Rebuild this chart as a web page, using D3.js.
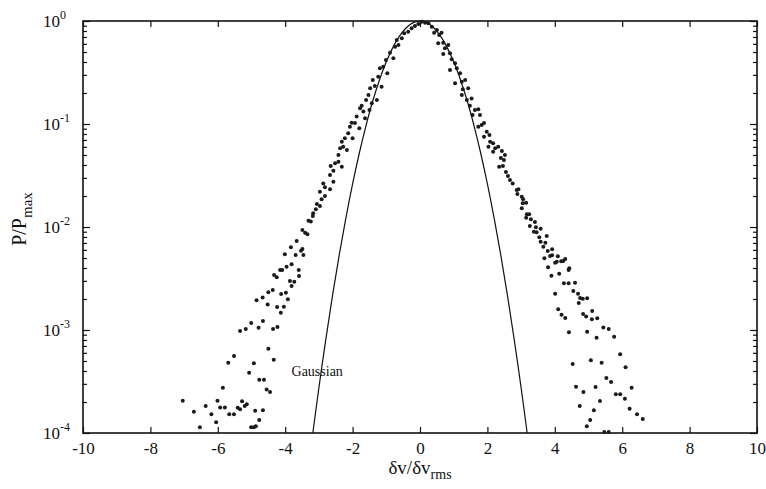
<!DOCTYPE html>
<html>
<head>
<meta charset="utf-8">
<script src="https://cdn.jsdelivr.net/npm/d3@7/dist/d3.min.js"></script>
<style>
  body { margin: 0; background: #fff; }
  svg { display: block; }
  svg text { font-family: "Liberation Serif", "Times New Roman", serif; }
</style>
</head>
<body>
<svg id="chart" width="766" height="489"></svg>
<script>
// Measured PDF, left tail (velocity increment / rms, normalised probability)
const leftTailX = [-2.87,-2.82,-2.57,-2.67,-2.97,-2.82,-2.92,-3.06,-2.97,-3.09,
  -3.17,-3.18,-3.31,-3.24,-3.49,-3.41,-3.34,-3.66,-3.83,-3.49,
  -3.53,-4.01,-3.69,-3.46,-3.81,-3.96,-4.15,-4.09,-3.60,-4.33,
  -4.25,-3.59,-3.86,-3.73,-3.81,-4.50,-4.37,-4.12,-3.98,-4.67,
  -4.85,-3.92,-4.52,-4.24,-4.04,-4.13,-5.01,-4.66,-4.79,-5.17,
  -5.34,-4.23,-4.36,-4.50,-4.34,-5.52,-5.69,-4.93,-5.07,-4.77,
  -4.63,-5.85,-4.55,-4.45,-7.04,-6.01,-5.28,-6.71,-6.36,-5.93,
  -5.79,-5.41,-5.34,-5.20,-5.14,-6.19,-5.66,-5.52,-4.89,-4.66,
  -6.53,-6.05,-4.77,-5.01,-4.87,-4.93];
const leftTailP = [0.0265,0.0243,0.0275,0.0232,0.0220,0.0200,0.0186,0.0167,0.0160,0.0149,
  0.0136,0.0128,0.0115,0.0113,0.00935,0.00881,0.00849,0.00731,0.00635,0.00611,
  0.00589,0.00543,0.00535,0.00535,0.00435,0.00412,0.00382,0.00382,0.00382,0.00342,
  0.00325,0.00334,0.00299,0.00294,0.00267,0.00232,0.00244,0.00223,0.00230,0.00207,
  0.00195,0.00199,0.00177,0.00167,0.00168,0.00147,0.00117,0.00122,0.00105,0.00102,
  0.000977,0.00107,0.00102,0.000658,0.000515,0.000560,0.000481,0.000475,0.000385,0.000329,
  0.000329,0.000275,0.000265,0.000250,0.000206,0.000206,0.000203,0.000161,0.000183,0.000177,
  0.000177,0.000176,0.000170,0.000183,0.000190,0.000152,0.000152,0.000152,0.000164,0.000166,
  0.000114,0.000127,0.000134,0.000114,0.000116,0.000114];

// core of the PDF
const coreX = [-2.67,-2.57,-2.65,-2.52,-2.42,-2.32,-2.42,-2.37,-2.28,-2.17,
  -2.32,-2.23,-2.13,-2.00,-2.08,-2.03,-1.93,-1.88,-1.80,-1.78,
  -1.73,-1.68,-1.60,-1.63,-1.53,-1.50,-1.43,-1.48,-1.34,-1.28,
  -1.40,-1.24,-1.14,-1.19,-1.09,-0.97,-1.01,-0.89,-0.79,-0.74,
  -0.64,-0.69,-0.54,-0.47,-0.35,-0.25,-0.15,-0.05,0.05,0.15,
  0.25,
  0.35,0.42,0.50,0.57,0.64,0.54,0.69,0.74,0.84,0.69,
  0.89,0.94,1.04,0.89,1.09,1.19,1.04,1.24,1.34,1.27,
  1.43,1.24,1.39,1.53,1.48,1.63,1.73,1.56,1.78,1.83,
  1.90,1.73,1.98,2.06,1.90,2.08,2.17,2.03,2.23,2.32,
  2.17,2.35,2.40,2.46,2.49,2.55,2.61,2.67,2.43,2.52];
const coreP = [0.0320,0.0352,0.0391,0.0415,0.0431,0.0385,0.0500,0.0581,0.0603,0.0560,
  0.0673,0.0726,0.0813,0.0726,0.0942,0.103,0.102,0.118,0.0908,0.142,
  0.150,0.132,0.171,0.114,0.191,0.137,0.159,0.222,0.234,0.171,
  0.267,0.288,0.230,0.347,0.360,0.311,0.418,0.492,0.434,0.563,
  0.585,0.654,0.679,0.760,0.787,0.849,0.894,0.935,0.984,0.962,
  0.950,
  0.881,0.770,0.818,0.731,0.770,0.607,0.615,0.543,0.585,0.478,
  0.486,0.425,0.388,0.334,0.347,0.311,0.248,0.257,0.267,0.217,
  0.222,0.191,0.171,0.177,0.150,0.137,0.139,0.122,0.122,0.0978,
  0.102,0.0942,0.0842,0.0782,0.0753,0.0673,0.0650,0.0603,0.0581,0.0603,
  0.0538,0.0385,0.0468,0.0391,0.0447,0.0342,0.0313,0.0286,0.0547,0.0500];

// right tail
const rightTailX = [2.75,2.87,2.92,2.89,3.02,3.06,3.15,3.05,3.02,3.17,
  3.24,3.15,3.29,3.41,3.26,3.44,3.58,3.38,3.46,3.54,
  3.76,3.58,3.72,3.66,3.79,3.92,3.86,3.92,4.09,3.69,
  4.01,4.06,4.19,4.25,4.31,3.80,4.43,4.41,4.13,3.90,
  4.27,4.41,4.60,4.55,4.69,4.01,4.75,4.83,4.96,4.71,
  4.10,4.20,4.31,4.84,4.93,5.11,5.10,5.26,4.42,4.96,
  5.44,5.60,5.24,5.76,4.53,5.07,5.39,5.94,6.10,5.53,
  5.67,4.63,5.21,6.28,4.85,5.81,5.94,6.08,5.34,4.74,
  5.16,6.22,6.44,6.61,5.05,4.95,5.47,5.60];
const rightTailP = [0.0265,0.0229,0.0232,0.0209,0.0197,0.0186,0.0172,0.0170,0.0152,0.0133,
  0.0133,0.0123,0.0119,0.0112,0.0102,0.00993,0.00962,0.00900,0.00888,0.00794,
  0.00818,0.00720,0.00705,0.00644,0.00585,0.00607,0.00523,0.00531,0.00519,0.00497,
  0.00450,0.00460,0.00464,0.00468,0.00489,0.00406,0.00397,0.00382,0.00352,0.00337,
  0.00284,0.00284,0.00288,0.00239,0.00225,0.00225,0.00205,0.00201,0.00203,0.00183,
  0.00159,0.00141,0.00131,0.00143,0.00135,0.00153,0.00127,0.00130,0.000950,0.000962,
  0.00106,0.00102,0.000841,0.000861,0.000468,0.000508,0.000481,0.000581,0.000434,0.000342,
  0.000313,0.000281,0.000279,0.000275,0.000250,0.000238,0.000238,0.000215,0.000205,0.000183,
  0.000166,0.000172,0.000152,0.000137,0.000134,0.000116,0.000102,0.000102];

// Gaussian reference curve
const gaussX = [-3.18,-3.0,-2.8,-2.6,-2.4,-2.2,-2.0,-1.8,-1.6,-1.4,-1.2,-1.0,-0.8,-0.6,-0.4,-0.2,0,
  0.2,0.4,0.6,0.8,1.0,1.2,1.4,1.6,1.8,2.0,2.2,2.4,2.6,2.8,3.0,3.18];
const gaussP = [1.0e-4,2.75e-4,7.9e-4,2.12e-3,5.27e-3,0.0122,0.0262,0.0523,0.0971,0.168,0.269,0.402,0.558,0.720,0.864,0.964,1,
  0.964,0.864,0.720,0.558,0.402,0.269,0.168,0.0971,0.0523,0.0262,0.0122,5.27e-3,2.12e-3,7.9e-4,2.75e-4,1.0e-4];

const xTicks = [-10, -8, -6, -4, -2, 0, 2, 4, 6, 8, 10];
const yDecades = [0, -1, -2, -3, -4];

const serif = '"Liberation Serif", "Times New Roman", serif';
const width = 766, height = 489;
const margin = {left: 83, right: 9, top: 21, bottom: 56};
const plotW = width - margin.left - margin.right;
const plotH = height - margin.top - margin.bottom;

const svg = d3.select('#chart');
const panel = svg.append('g')
                 .attr('transform', `translate(${margin.left},${margin.top})`);

const x = d3.scaleLinear().domain([-10, 10]).range([0, plotW]);
const y = d3.scaleLog().domain([1e-4, 1]).range([plotH, 0]);

const isMajor = d => Math.abs(Math.log10(d) - Math.round(Math.log10(d))) < 1e-6;
const majorY = y.ticks().filter(isMajor);
const minorY = y.ticks().filter(d => !isMajor(d));

// ticks (inward on all four sides)
function tickAxis(axis, tr) {
  const g = panel.append('g').attr('transform', tr).call(axis);
  g.attr('font-family', serif);
  g.select('.domain').remove();
  g.selectAll('line').attr('stroke', '#111').attr('stroke-width', 1.2);
  return g;
}

const xb = tickAxis(d3.axisBottom(x).tickValues(xTicks).tickSizeInner(-6).tickSizeOuter(0)
                      .tickPadding(9).tickFormat(d => String(d)),
                    `translate(0,${plotH})`);
xb.selectAll('text').attr('font-size', 17).attr('fill', '#111')
  .style('font-family', serif);

tickAxis(d3.axisTop(x).tickValues(xTicks).tickSizeInner(-6).tickSizeOuter(0).tickFormat(''),
         'translate(0,0)');

tickAxis(d3.axisLeft(y).tickValues(majorY).tickSizeInner(-7).tickSizeOuter(0).tickFormat(''),
         'translate(0,0)');
tickAxis(d3.axisLeft(y).tickValues(minorY).tickSizeInner(-4).tickSizeOuter(0).tickFormat(''),
         'translate(0,0)');
tickAxis(d3.axisRight(y).tickValues(majorY).tickSizeInner(-7).tickSizeOuter(0).tickFormat(''),
         `translate(${plotW},0)`);
tickAxis(d3.axisRight(y).tickValues(minorY).tickSizeInner(-4).tickSizeOuter(0).tickFormat(''),
         `translate(${plotW},0)`);

// y labels as 10^n
const yLab = panel.append('g').attr('class', 'y-labels');
yDecades.forEach(e => {
  const t = yLab.append('text')
                .attr('x', -40)
                .attr('y', y(Math.pow(10, e)) + 6)
                .attr('font-size', 17)
                .attr('fill', '#111');
  t.append('tspan').text('10');
  t.append('tspan').attr('font-size', 12).attr('dy', -8).text(String(e));
});

// frame
panel.append('rect')
     .attr('width', plotW).attr('height', plotH)
     .attr('fill', 'none').attr('stroke', '#111').attr('stroke-width', 1.6);

// Gaussian curve
panel.append('path')
     .datum(gaussX.map((v, i) => [v, gaussP[i]]))
     .attr('fill', 'none')
     .attr('stroke', '#111')
     .attr('stroke-width', 1.2)
     .attr('d', d3.line().x(d => x(d[0])).y(d => y(d[1])).curve(d3.curveCatmullRom));

panel.append('text')
     .attr('x', x(-3.05)).attr('y', y(3.6e-4))
     .attr('text-anchor', 'middle')
     .attr('font-size', 14)
     .attr('fill', '#111')
     .text('Gaussian');

// data points
const pts = [].concat(
  leftTailX.map((v, i) => [v, leftTailP[i]]),
  coreX.map((v, i) => [v, coreP[i]]),
  rightTailX.map((v, i) => [v, rightTailP[i]])
);
panel.append('g').attr('class', 'points')
     .selectAll('circle')
     .data(pts)
     .join('circle')
     .attr('cx', d => x(d[0]))
     .attr('cy', d => y(d[1]))
     .attr('r', 2)
     .attr('fill', '#1a1a1a');

// axis titles
const xt = svg.append('text')
              .attr('x', margin.left + x(0))
              .attr('y', 474)
              .attr('text-anchor', 'middle')
              .attr('font-size', 19)
              .attr('fill', '#111');
xt.append('tspan').text('δv/δv');
xt.append('tspan').attr('font-size', 14).attr('dy', 5).text('rms');

const yt = svg.append('text')
              .attr('transform', `translate(26,${margin.top + 198}) rotate(-90)`)
              .attr('text-anchor', 'middle')
              .attr('font-size', 20)
              .attr('fill', '#111');
yt.append('tspan').text('P/P');
yt.append('tspan').attr('font-size', 15).attr('dy', 6).text('max');
</script>
</body>
</html>
